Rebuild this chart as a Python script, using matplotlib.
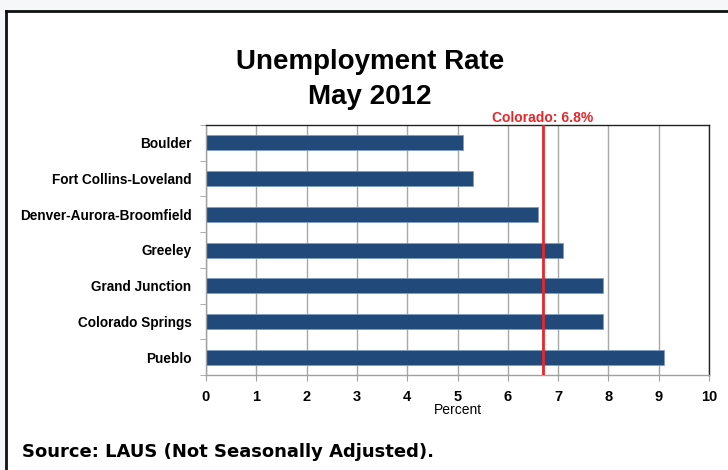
import matplotlib
matplotlib.use("Agg")
import matplotlib.pyplot as plt
from matplotlib.lines import Line2D
from matplotlib.patches import Rectangle
import matplotlib.transforms as mtransforms
import numpy as np

# datos
areas = ["Boulder", "Fort Collins-Loveland", "Denver-Aurora-Broomfield",
         "Greeley", "Grand Junction", "Colorado Springs", "Pueblo"]
tasas = [5.1, 5.3, 6.6, 7.1, 7.9, 7.9, 9.1]
colorado = 6.7  # posición de la línea roja
etiqueta_colorado = "Colorado: 6.8%"
xticks = list(range(0, 11))

plt.rcParams['font.family'] = ['Liberation Sans', 'DejaVu Sans']

fig = plt.figure(figsize=(7.28, 4.70), dpi=100)
fig.patch.set_facecolor('#f6f7f9')

# marco blanco con borde negro arriba e izquierda
W, H = 728.0, 470.0
fig.patches.append(Rectangle((6 / W, 0), 1, 1 - 11 / H, transform=fig.transFigure,
                             facecolor='white', edgecolor='none', zorder=-5))
fig.lines.append(Line2D([6 / W, 1], [1 - 11 / H, 1 - 11 / H], transform=fig.transFigure,
                        color='#111111', lw=2.0, zorder=-4))
fig.lines.append(Line2D([6 / W, 6 / W], [0, 1 - 11 / H], transform=fig.transFigure,
                        color='#111111', lw=2.0, zorder=-4))

ax = fig.add_axes([206 / W, 1 - 375 / H, (709 - 206) / W, 250 / H])
ax.set_facecolor('white')

y = np.arange(len(areas))
ax.barh(y, tasas, height=0.42, color='#214a7b', edgecolor='#7f9cc4', linewidth=0.6, zorder=2)
ax.set_ylim(len(areas) - 0.5, -0.5)
ax.set_xlim(0, 10)

ax.set_yticks(y)
ax.set_yticklabels(areas, fontsize=9.8, fontweight='bold')
ax.set_yticks(np.arange(-0.5, len(areas), 1), minor=True)
ax.tick_params(axis='y', which='major', length=0, pad=10.5)
ax.tick_params(axis='y', which='minor', length=4, color='#a0a0a0', direction='out')

ax.set_xticks(xticks)
ax.set_xticklabels([str(t) for t in xticks], fontsize=10.5, fontweight='bold')
ax.tick_params(axis='x', length=4, color='#a0a0a0', direction='out', pad=6.5)

ax.grid(axis='x', color='#a8a8a8', linewidth=1.0, zorder=1)
ax.set_axisbelow(True)

for lado in ['top', 'right']:
    ax.spines[lado].set_color('#222222')
    ax.spines[lado].set_linewidth(1.0)
for lado in ['left', 'bottom']:
    ax.spines[lado].set_color('#a0a0a0')
    ax.spines[lado].set_linewidth(1.0)

# línea de Colorado
ax.axvline(colorado, color='#e8262b', linewidth=2, zorder=3)
trans = mtransforms.blended_transform_factory(ax.transData, ax.transAxes)
ax.text(colorado, 1.012, etiqueta_colorado, transform=trans, ha='center', va='baseline',
        color='#e8262b', fontsize=10, fontweight='bold')

ax.text(5, -0.142, "Percent", transform=trans, ha='center', va='center', fontsize=10)

# títulos
fig.text(370 / W, 1 - 69 / H, "Unemployment Rate", ha='center', va='baseline',
         fontsize=20, fontweight='bold')
fig.text(370 / W, 1 - 104 / H, "May 2012", ha='center', va='baseline',
         fontsize=20, fontweight='bold')

fig.text(22 / W, 1 - 452 / H, "Source: LAUS (Not Seasonally Adjusted).", ha='left', va='center',
         fontsize=13.0, fontweight='bold', family='DejaVu Sans')

fig.savefig("out.png", dpi=100, facecolor=fig.get_facecolor())
